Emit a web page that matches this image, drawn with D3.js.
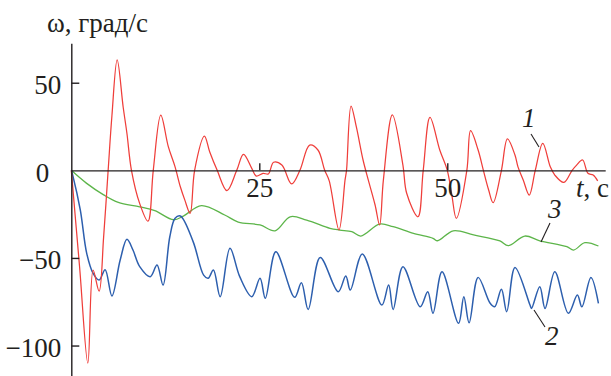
<!DOCTYPE html>
<html>
<head>
<meta charset="utf-8">
<script src="https://cdn.jsdelivr.net/npm/d3@7"></script>
<style>
  html, body { margin: 0; padding: 0; background: #fff; }
  svg { display: block; }
</style>
</head>
<body>
<svg id="chart" width="611" height="376"></svg>
<script>
// Angular velocity ω (deg/s) versus time t (s) for three runs
const series1 = [ // curve 1 (red)
  [0,0],[1.1,-55],[2.2,-110],[2.9,-57],[3.7,-69],[4.3,-38],[4.9,0],[5.4,31],[6.1,63],
  [6.9,36],[7.4,21],[8.0,0],[9.1,-19],[10.2,-29],[10.9,0],[11.9,31.5],[12.9,13.5],
  [13.8,2],[14.5,-9.4],[15.1,-17],[15.8,-24.5],[16.4,0],[17.7,19.5],[18.4,10.6],
  [19.4,0],[20.7,-11.6],[22.0,0],[22.9,9.1],[24.0,1.1],[24.6,-3.3],[25.5,-1.7],
  [26.2,-2.1],[26.9,4.6],[28.0,3],[29.3,-7.8],[30.4,0],[31.7,14.4],[32.8,11.6],
  [33.7,0],[34.3,-6],[35.6,-34],[36.4,-5.6],[36.6,0],[37.2,36.7],[37.9,24.9],
  [38.8,5.9],[39.5,-5.6],[40.4,-19.8],[41.0,-31.2],[41.5,-5.6],[42.7,31.6],
  [44.1,3],[44.6,-13.1],[46.1,-26.5],[46.8,0],[47.7,30.2],[49.0,11.6],[50.0,0],
  [50.6,-14],[51.2,-27.4],[52.6,0],[53.1,22.6],[54.1,11.6],[54.8,0],[55.5,-11.2],
  [56.1,-18.5],[57.2,0],[58.0,17.9],[59.0,8.7],[59.4,2],[60.1,-5.5],[60.9,-14.1],
  [61.7,0],[62.7,15.4],[63.7,2],[64.3,-2.7],[65.5,-6.9],[66.6,0],[67.2,3],
  [68.0,5.9],[68.7,-1.7],[69.4,-2.7],[70.0,-6]
];
const series2 = [ // curve 2 (blue)
  [0,0],[0.2,-3],[1.2,-22.7],[2.05,-47.4],[2.9,-58.8],[3.7,-62.6],[4.5,-56.7],
  [5.4,-71.7],[6.5,-51.2],[7.4,-39.4],[8.2,-45.5],[9.1,-55],[10.5,-60.7],
  [11.4,-54],[12.2,-65.5],[13.1,-37.9],[13.8,-27.4],[14.5,-26.1],[16.2,-40.7],
  [17.6,-59.8],[18.2,-61.6],[18.9,-56.9],[19.8,-72.1],[21.1,-44.5],[22.4,-60.7],
  [24.0,-72.1],[25.1,-61.6],[25.8,-73],[27.2,-46.5],[29.7,-72.5],[30.6,-64.1],
  [31.5,-79.4],[33.1,-49.7],[35.5,-69.3],[36.5,-60.3],[37.1,-68.3],[38.7,-47.8],
  [41.3,-76.9],[42.2,-65.5],[42.8,-79.4],[44.1,-55],[46.4,-77.9],[47.4,-69.3],
  [48.1,-81.6],[49.3,-57.9],[51.5,-87.3],[52.2,-72.1],[52.9,-87],[54.1,-61.1],
  [55.7,-75.9],[56.3,-77.9],[57.2,-67.9],[57.9,-80.7],[59.0,-55.4],[61.0,-76.9],
  [61.2,-78.8],[62.3,-66.4],[63.0,-78.8],[64.3,-57.9],[66.1,-81.6],[67.3,-71.2],
  [67.9,-77.9],[69.1,-61.1],[70.1,-75.9]
];
const series3 = [ // curve 3 (green)
  [0,0],[2,-7.3],[4.3,-14],[6.25,-18.3],[9.1,-20.8],[11.1,-23],[13.6,-28.2],
  [14.9,-26.1],[17.3,-20.1],[20.4,-25.5],[22.2,-29.5],[25.1,-31.2],[27.1,-34.5],
  [29.1,-26.5],[31.3,-28.4],[34.4,-33.1],[35.7,-34.1],[37.3,-35],[38.5,-37.5],
  [41.0,-30.7],[42.8,-32.2],[45.5,-36],[48.1,-38.8],[48.7,-40.2],[50.8,-34.5],
  [53.5,-36.9],[57.0,-40.3],[58.1,-43],[60.3,-37.5],[62.3,-40.2],[65.9,-43.6],
  [66.8,-45.5],[68.3,-41.3],[70.1,-43.2]
];
const yTicks = [50, 0, -50, -100];
const xTicks = [25, 50];
const curveLabels = ["1", "2", "3"];

const FONT = "'Liberation Serif', 'Times New Roman', Times, 'DejaVu Serif', serif";
const INK = "#231f20";
const FS = "27px";

const svg = d3.select("#chart").style("font-family", FONT);
const x = d3.scaleLinear().domain([0, 71]).range([71.3, 605.2]);
const y = d3.scaleLinear().domain([-117.5, 72.5]).range([376.2, 43.3]);

const line = d3.line()
  .x(d => x(d[0]))
  .y(d => y(d[1]))
  .curve(d3.curveCatmullRom.alpha(0.5));

// data curves
svg.append("path").datum(series3).attr("d", line)
  .attr("fill", "none").attr("stroke", "#5db54a").attr("stroke-width", 1.3);
svg.append("path").datum(series2).attr("d", line)
  .attr("fill", "none").attr("stroke", "#2d5fae").attr("stroke-width", 1.5);
svg.append("path").datum(series1).attr("d", line)
  .attr("fill", "none").attr("stroke", "#ef3e3a").attr("stroke-width", 1.25);

// text helper: serif face applied inline on every label
function styleText(sel) {
  return sel.style("font-family", FONT).style("font-size", FS).style("fill", INK);
}

// y axis: ticks point inward, labels to the left
const yAxis = svg.append("g")
  .attr("transform", `translate(${x(0)},0)`)
  .call(d3.axisLeft(y).tickValues(yTicks).tickSizeInner(-8).tickSizeOuter(0)
    .tickPadding(10).tickFormat(d => d < 0 ? "\u2212" + Math.abs(d) : String(d)));
yAxis.attr("font-family", null).attr("font-size", null);
yAxis.select(".domain").attr("stroke", INK).attr("stroke-width", 1.4);
yAxis.selectAll(".tick line").attr("stroke", INK).attr("stroke-width", 1.4);
styleText(yAxis.selectAll(".tick text"))
  .attr("dy", "0.4em")
  .attr("x", d => d === 0 ? -22 : -10);
yAxis.selectAll(".tick").filter(d => d === 0).select("line").remove();

// x axis along ω = 0
const xAxis = svg.append("g")
  .attr("transform", `translate(0,${y(0)})`)
  .call(d3.axisBottom(x).tickValues(xTicks).tickSizeInner(-7).tickSizeOuter(0)
    .tickPadding(0));
xAxis.attr("font-family", null).attr("font-size", null);
xAxis.select(".domain").attr("stroke", INK).attr("stroke-width", 1.4);
xAxis.selectAll(".tick line").attr("stroke", INK).attr("stroke-width", 1.4);
styleText(xAxis.selectAll(".tick text")).attr("y", 27).attr("dy", 0);

// axis titles
styleText(svg.append("text").attr("x", 47).attr("y", 32)).text("ω, град/с");
const tl = styleText(svg.append("text").attr("x", 576).attr("y", 197));
tl.append("tspan").style("font-style", "italic").text("t");
tl.append("tspan").text(", с");

// curve numbers with leader lines
const leaders = [
  { label: curveLabels[0], tx: 522, ty: 127, x1: 531, y1: 134, x2: 539, y2: 147 },
  { label: curveLabels[1], tx: 545, ty: 345, x1: 534, y1: 310, x2: 545, y2: 327 },
  { label: curveLabels[2], tx: 548, ty: 218, x1: 550, y1: 223, x2: 541, y2: 242 }
];
leaders.forEach(l => {
  svg.append("line").attr("x1", l.x1).attr("y1", l.y1).attr("x2", l.x2).attr("y2", l.y2)
    .attr("stroke", INK).attr("stroke-width", 1.1);
  styleText(svg.append("text").attr("x", l.tx).attr("y", l.ty))
    .style("font-style", "italic").text(l.label);
});
</script>
</body>
</html>
